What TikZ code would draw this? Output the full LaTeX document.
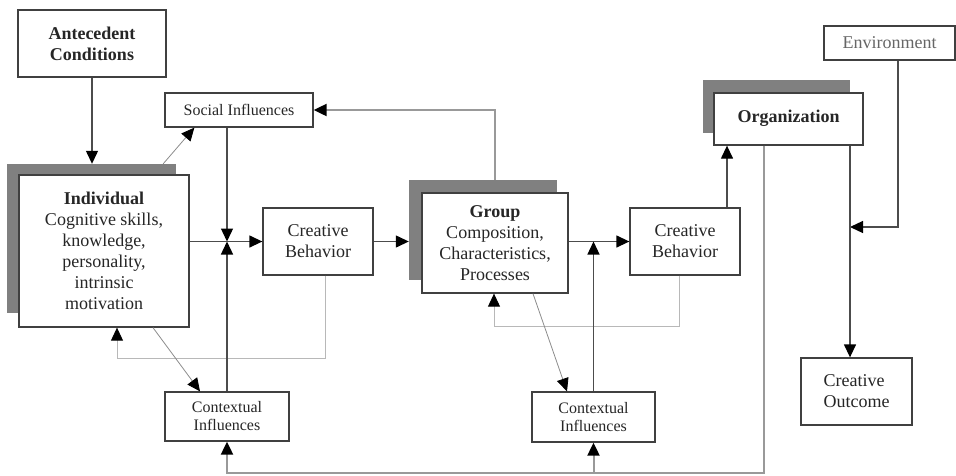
\documentclass[tikz,border=0pt]{standalone}
\usepackage{fontspec}
\setmainfont{Liberation Serif}
\usetikzlibrary{arrows.meta,calc}
\begin{document}
\begin{tikzpicture}[x=1pt,y=-1pt,
  tip/.style={-{Triangle[length=13pt,width=12pt,color=black]}},
  box/.style={draw=black!75, line width=1.3pt, fill=white, inner sep=0pt, align=center, text=black!85, font=\fontsize{18}{21}\selectfont},
  smallbox/.style={box, font=\fontsize{16}{18}\selectfont},
  shadowbox/.style={fill=black!50, draw=none, inner sep=0pt},
  conn/.style={draw=black!70, line width=1.3pt, tip},
  gconn/.style={draw=black!40, line width=2pt, tip},
  thinconn/.style={draw=black!45, line width=0.8pt, tip},
  fb/.style={draw=black!28, line width=0.9pt, tip},
]
\useasboundingbox (0,0) rectangle (956,475);

% shadows
\node[shadowbox, minimum width=169pt, minimum height=149pt] (indshadow) at (91.5,238.5) {};
\node[shadowbox, minimum width=148pt, minimum height=100pt] (gshadow) at (483,230) {};
\node[shadowbox, minimum width=147pt, minimum height=53pt] (oshadow) at (776.5,106.5) {};

% boxes
\node[box, minimum width=148pt, minimum height=67pt] (ante) at (92,43.5) {\textbf{Antecedent}\\\textbf{Conditions}};
\node[smallbox, minimum width=148pt, minimum height=34pt] (social) at (239,110) {Social Influences};
\node[box, minimum width=170pt, minimum height=152pt] (ind) at (104,251) {\textbf{Individual}\\Cognitive skills,\\knowledge,\\personality,\\intrinsic\\motivation};
\node[box, minimum width=110pt, minimum height=67pt] (cb1) at (318,241.5) {Creative\\Behavior};
\node[box, minimum width=146pt, minimum height=100pt] (group) at (495,243) {\textbf{Group}\\Composition,\\Characteristics,\\Processes};
\node[box, minimum width=110pt, minimum height=67pt] (cb2) at (685,241.5) {Creative\\Behavior};
\node[box, minimum width=149pt, minimum height=52pt] (org) at (788.5,119) {\raisebox{6pt}{\textbf{Organization}}};
\node[box, minimum width=131pt, minimum height=34pt, text=black!60] (env) at (889.5,43) {Environment};
\node[box, minimum width=111pt, minimum height=67pt, align=left] (outcome) at (856.5,391.5) {Creative\\Outcome};
\node[smallbox, minimum width=124pt, minimum height=49pt] (ctx1) at (227,416.5) {Contextual\\Influences};
\node[smallbox, minimum width=123pt, minimum height=50pt] (ctx2) at (593.5,417) {Contextual\\Influences};

% coordinates
\coordinate (j1) at (ctx1.north |- cb1.west);
\coordinate (j2) at (ctx2.north |- cb2.west);
\coordinate (ok) at ([xshift=61.5pt]org.south);
\coordinate (ej) at (850,227);
\coordinate (ob) at ([xshift=-24.5pt]org.south);
\coordinate (bot) at (764,473);

% feedback lines (light)
\draw[fb] ([xshift=7pt]cb1.south) -- ++(0,83) -| ([xshift=13pt]ind.south);
\draw[fb] ([xshift=-6pt]cb2.south) -- ++(0,51) -| ([xshift=-1pt]group.south);

% thin diagonal lines
\draw[thinconn] ([xshift=-13pt]indshadow.north east) -- ([xshift=30pt]social.south west);
\draw[thinconn] ([xshift=49pt]ind.south) -- ([xshift=-27pt]ctx1.north);
\draw[thinconn] ([xshift=38pt]group.south) -- ([xshift=-26.5pt]ctx2.north);

% main connectors
\draw[conn] (ante.south) -- (ante.south |- indshadow.north);
\draw[conn] (social.south -| j1) -- (j1);
\draw[conn] (ctx1.north) -- (j1);
\draw[conn] (ind.east |- cb1.west) -- (cb1.west);
\draw[conn] (cb1.east) -- (cb1.east -| gshadow.west);
\draw[gconn] (group.center |- gshadow.north) |- (social.east);
\draw[conn] (group.east |- cb2.west) -- (cb2.west);
\draw[conn] (ctx2.north) -- (j2);
\draw[conn] ([xshift=42pt]cb2.north) -- ([xshift=42pt]cb2.north |- org.south);
\draw[conn] ([xshift=8.5pt]env.south) |- (ej);
\draw[conn] (ok) -- (ok |- outcome.north);

% bottom gray return line
\draw[gconn] (ob) -- (bot) -| (ctx1.south);
\draw[gconn] (ctx2.south |- bot) -- (ctx2.south);
\end{tikzpicture}
\end{document}
